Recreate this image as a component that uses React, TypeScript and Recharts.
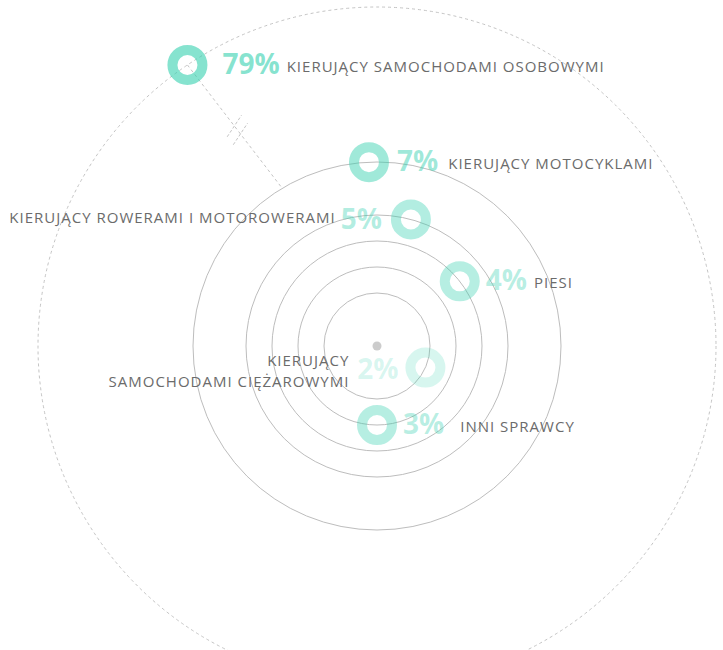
import { RadarChart, Radar, PolarGrid, PolarAngleAxis, PolarRadiusAxis } from 'recharts';

// offender groups, share of accidents, and where each sits on the "orbit" diagram
const categories = [
  ['KIERUJĄCY SAMOCHODAMI OSOBOWYMI'],
  ['KIERUJĄCY MOTOCYKLAMI'],
  ['KIERUJĄCY ROWERAMI I MOTOROWERAMI'],
  ['PIESI'],
  ['KIERUJĄCY', 'SAMOCHODAMI CIĘŻAROWYMI'],
  ['INNI SPRAWCY'],
];
const shares = [79, 7, 5, 4, 2, 3];
const bearings = [326, 357.5, 15, 52, 114, 180];
const orbits = [339, 184, 131, 105, 53, 79];
const gridOrbits = [53, 79, 105, 131, 184];
const outerOrbit = [339];

const data = categories.map((name, i) => ({
  name,
  share: shares[i],
  bearing: bearings[i],
  orbit: orbits[i],
}));

const W = 723;
const H = 650;
const CX = 377;
const CY = 346;
const TEAL = '#35d0af';
const GREY_TEXT = '#6b6b6b';
const FONT = '"Open Sans", "DejaVu Sans", sans-serif';

// per marker styling
const ringOpacity = [0.6, 0.47, 0.38, 0.36, 0.2, 0.36];
const labelLeft = [false, false, true, false, true, false];
const pctGap = [35, 28, 29, 26, 27, 26];
const nameGap = [7, 10, 5, 7, 6, 16];

function Marker(props: any) {
  const { cx: x, cy: y, index, payload } = props;
  if (x == null || y == null) return <g />;
  const row = payload && payload.payload ? payload.payload : payload;
  const ccx = payload && typeof payload.cx === 'number' ? payload.cx : CX;
  const ccy = payload && typeof payload.cy === 'number' ? payload.cy : CY;
  const op = ringOpacity[index];
  const pct = `${row.share}%`;
  const lines: string[] = row.name;

  let extra = null;
  if (index === 0) {
    // dashed connector down to the inner orbit, with a "broken axis" mark
    const b = ((row.bearing + 3) * Math.PI) / 180;
    const r = gridOrbits[gridOrbits.length - 1];
    const ex = ccx + r * Math.sin(b);
    const ey = ccy - r * Math.cos(b);
    const len = Math.hypot(ex - x, ey - y);
    const ux = (ex - x) / len;
    const uy = (ey - y) / len;
    const tick = (d: number) => {
      const mx = x + ux * d;
      const my = y + uy * d;
      const tx = 0.55;
      const ty = -0.83;
      return (
        <line
          key={d}
          x1={mx - tx * 13}
          y1={my - ty * 13}
          x2={mx + tx * 13}
          y2={my + ty * 13}
          stroke="#c4c4c4"
          strokeDasharray="3 2"
        />
      );
    };
    extra = (
      <g>
        <line x1={x} y1={y} x2={ex} y2={ey} stroke="#c4c4c4" strokeDasharray="3 3" />
        {tick(77)}
        {tick(87)}
        <circle cx={ccx} cy={ccy} r={4.5} fill="#cccccc" />
      </g>
    );
  }

  let label;
  if (!labelLeft[index]) {
    label = (
      <text x={x + pctGap[index]} y={y + 9} fontFamily={FONT}>
        <tspan fontSize={28} fontWeight={700} fill={TEAL} fillOpacity={op}>
          {pct}
        </tspan>
        <tspan dx={nameGap[index]} dy={-2} fontSize={15} letterSpacing={1} fill={GREY_TEXT}>
          {lines[0]}
        </tspan>
      </text>
    );
  } else if (lines.length === 1) {
    label = (
      <text x={x - pctGap[index]} y={y + 4} textAnchor="end" fontFamily={FONT}>
        <tspan fontSize={15} letterSpacing={1} fill={GREY_TEXT}>
          {lines[0]}
        </tspan>
        <tspan dx={nameGap[index]} dy={6} fontSize={28} fontWeight={700} fill={TEAL} fillOpacity={op}>
          {pct}
        </tspan>
      </text>
    );
  } else {
    label = (
      <g fontFamily={FONT}>
        <text
          x={x - pctGap[index]}
          y={y + 11}
          textAnchor="end"
          fontSize={28}
          fontWeight={700}
          fill={TEAL}
          fillOpacity={op}
        >
          {pct}
        </text>
        {lines.map((ln, k) => (
          <text
            key={k}
            x={x - 76}
            y={y - 2 + k * 21}
            textAnchor="end"
            fontSize={15}
            letterSpacing={1}
            fill={GREY_TEXT}
          >
            {ln}
          </text>
        ))}
      </g>
    );
  }

  return (
    <g>
      {extra}
      <circle cx={x} cy={y} r={15} fill="none" stroke={TEAL} strokeOpacity={op} strokeWidth={10} />
      {label}
    </g>
  );
}

export default function App() {
  return (
    <div style={{ position: 'absolute', left: 0, top: 0, width: W, height: H, background: '#fff' }}>
      <RadarChart
        width={W}
        height={H}
        data={data}
        cx={CX}
        cy={CY}
        innerRadius={0}
        outerRadius={outerOrbit[0]}
        margin={{ top: 0, right: 0, bottom: 0, left: 0 }}
      >
        <PolarGrid gridType="circle" radialLines={false} polarRadius={gridOrbits} stroke="#bdbdbd" />
        <PolarGrid
          gridType="circle"
          radialLines={false}
          polarRadius={outerOrbit}
          stroke="#c4c4c4"
          strokeDasharray="3 3"
        />
        <PolarAngleAxis dataKey="bearing" type="number" domain={[0, 360]} tick={false} axisLine={false} />
        <PolarRadiusAxis type="number" domain={[0, outerOrbit[0]]} tick={false} axisLine={false} />
        <Radar
          dataKey="orbit"
          stroke="none"
          fill="none"
          fillOpacity={0}
          dot={(p: any) => <Marker key={p.index} {...p} />}
          activeDot={false}
          isAnimationActive={false}
        />
      </RadarChart>
    </div>
  );
}
